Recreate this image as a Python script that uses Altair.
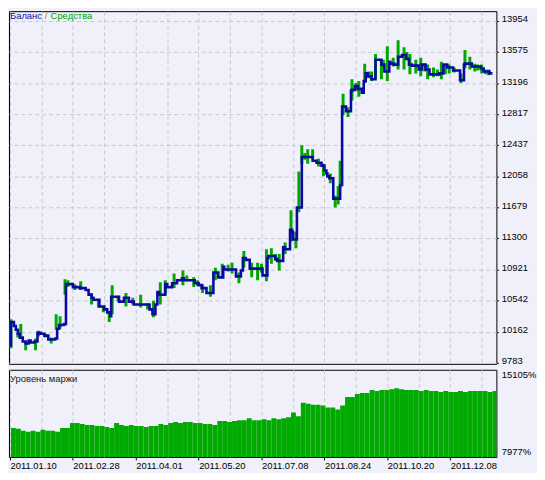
import altair as alt
import pandas as pd

# ---------------- data ----------------
# balance (deal index -> balance)
bal_idx = [0, 1, 4, 6, 8, 10, 13, 16, 19, 21, 25, 28, 31, 35, 39, 46, 48, 50, 55, 57,
           64, 71, 77, 80, 83, 85, 91, 96, 99, 102, 103, 111, 116, 121, 126, 142, 145, 148, 150, 152,
           158, 160, 165, 170, 175, 177, 188, 192, 195, 200, 207, 212, 217, 218, 230, 235, 237, 240, 244, 257,
           262, 263, 270, 272, 278, 280, 285, 287, 288, 292, 297, 308, 312, 317, 320, 322, 323, 325, 329, 336,
           338, 342, 347, 348, 351, 354, 358, 360, 362, 364, 368, 372, 378, 381, 386, 387, 391, 395, 399, 403,
           406, 409, 416, 419, 423, 427, 437, 441, 445, 451, 458, 462, 463, 470, 479, 482, 488, 491]
bal_val = [9996, 10281, 10233, 10186, 10139, 10091, 10044, 10020, 10056, 10032, 10044, 10150, 10139, 10115, 10067, 10079, 10198, 10245, 10257, 10743,
           10707, 10695, 10672, 10613, 10577, 10553, 10470, 10435, 10399, 10352, 10589, 10530, 10577, 10530, 10494, 10435, 10376, 10494, 10648, 10613,
           10743, 10707, 10755, 10790, 10814, 10790, 10755, 10731, 10695, 10636, 10885, 10826, 10956, 10921, 10838, 10909, 11063, 11039, 10932, 10850,
           11063, 11087, 11051, 11027, 11193, 11169, 11406, 11383, 11288, 11679, 12295, 12248, 12224, 12189, 12129, 12094, 12058, 12035, 11786, 11952,
           12911, 12852, 13101, 13113, 13160, 13125, 13077, 13220, 13314, 13279, 13243, 13480, 13421, 13338, 13457, 13433, 13421, 13516, 13539, 13492,
           13421, 13409, 13362, 13421, 13362, 13302, 13314, 13421, 13385, 13350, 13231, 13421, 13433, 13397, 13374, 13338, 13314, 13314]

# equity excursions (deal index -> high / low of equity)
eq_idx = [1, 8, 11, 16, 26, 29, 36, 42, 47, 51, 56, 59, 66, 72, 83, 90, 95, 101, 104, 110,
          118, 125, 133, 140, 146, 153, 158, 167, 176, 180, 187, 191, 196, 204, 209, 216, 222, 226, 233, 238,
          246, 252, 256, 261, 266, 270, 274, 280, 286, 291, 294, 297, 300, 303, 308, 314, 319, 326, 331, 334,
          336, 339, 344, 348, 352, 355, 361, 365, 368, 372, 378, 380, 384, 390, 395, 401, 404, 407, 413, 418,
          422, 425, 431, 435, 439, 443, 447, 452, 459, 463, 468, 473, 476, 480, 484, 487]
eq_hi = [10316, 10150, 10257, 10044, 10079, 10174, 10139, 10091, 10376, 10352, 10802, 10790, 10743, 10778, 10636, 10553, 10470, 10399, 10731, 10601,
         10636, 10577, 10613, 10506, 10541, 10767, 10790, 10873, 10909, 10850, 10826, 10790, 10743, 10731, 10944, 10992, 10980, 11004, 10885, 11146,
         11004, 11004, 10992, 11169, 11181, 11110, 11110, 11252, 11643, 11383, 12117, 12437, 12342, 12390, 12390, 12272, 12212, 12094, 11821, 11940,
         12248, 13065, 12900, 13243, 13196, 13220, 13433, 13338, 13338, 13551, 13480, 13480, 13646, 13504, 13717, 13634, 13575, 13551, 13480, 13504,
         13433, 13421, 13385, 13362, 13457, 13421, 13421, 13385, 13314, 13599, 13516, 13433, 13421, 13421, 13362, 13362]
eq_lo = [9961, 10091, 10103, 9937, 9937, 10103, 10091, 10020, 10186, 10198, 10613, 10707, 10672, 10672, 10494, 10458, 10399, 10281, 10376, 10530,
         10470, 10494, 10458, 10435, 10340, 10494, 10613, 10695, 10731, 10778, 10707, 10719, 10636, 10589, 10790, 10814, 10897, 10873, 10755, 10944,
         10826, 10790, 10885, 10778, 10992, 11027, 10909, 11110, 11264, 11181, 11620, 12212, 12260, 12212, 12272, 12177, 12058, 11975, 11679, 11715,
         11916, 12805, 12781, 12983, 13101, 13030, 13196, 13255, 13220, 13255, 13243, 13385, 13220, 13397, 13362, 13362, 13470, 13302, 13314, 13279,
         13338, 13243, 13267, 13279, 13243, 13302, 13314, 13326, 13196, 13374, 13362, 13338, 13350, 13314, 13302, 13291]

# margin level (%)
margin_idx = list(range(1, 492, 5))
margin_val = [10353, 10274, 10115, 10036, 10115, 10036, 10195, 10115, 10115, 10036,
              10353, 10353, 10749, 10749, 10670, 10591, 10591, 10511, 10511, 10432,
              10353, 10749, 10591, 10511, 10591, 10511, 10511, 10432, 10511, 10511,
              10670, 10591, 10749, 10828, 10749, 10828, 10828, 10749, 10749, 10670,
              10670, 10591, 10907, 10907, 10828, 10907, 10987, 10987, 11145, 10987,
              10987, 11066, 10987, 11145, 11066, 11145, 11224, 11620, 11303, 12412,
              12333, 12254, 12254, 12175, 12016, 12016, 11858, 12175, 12887, 12887,
              13125, 13204, 13204, 13442, 13363, 13442, 13442, 13521, 13600, 13521,
              13442, 13442, 13442, 13363, 13442, 13363, 13363, 13283, 13363, 13283,
              13283, 13363, 13283, 13363, 13363, 13363, 13363, 13283, 13363]

date_labels = ["2011.01.10", "2011.02.28", "2011.04.01", "2011.05.20",
               "2011.07.08", "2011.08.24", "2011.10.20", "2011.12.08"]
y_ticks = [9783, 10162, 10542, 10921, 11300, 11679, 12058, 12437, 12817, 13196, 13575, 13954]
margin_ticks = [7977, 15105]
grid_x = list(range(0, 481, 32))

# ---------------- style ----------------
BG = "#F0F0FA"
FONT = "Liberation Sans"
GRID = "#C8C8C8"
BLUE = "#0A0AA0"
GREEN = "#00A800"
W = 492

xscale = alt.Scale(domain=[-1, 495], nice=False, zero=False)
ymain = alt.Scale(domain=[9771, 14073], nice=False, zero=False)
ymargin = alt.Scale(domain=[7977, 15105], nice=False, zero=False)

bal_df = pd.DataFrame({"i": bal_idx, "v": bal_val})
eq_df = pd.DataFrame({"i": eq_idx, "hi": eq_hi, "lo": eq_lo})
m_df = pd.DataFrame({"i": margin_idx, "v": margin_val})

x_axis_main = alt.Axis(values=grid_x, grid=True, gridColor=GRID, gridDash=[4, 3],
                       labels=False, ticks=False, domain=False, title=None)
y_axis_main = alt.Axis(orient="right", values=y_ticks, format="d", grid=True, gridColor=GRID,
                       gridDash=[4, 3], domain=False, tickSize=2, tickColor="black",
                       labelFont=FONT, labelFontSize=9.5, labelColor="black", labelPadding=3,
                       labelOffset=-2, labelOverlap=False, labelBound=False, title=None)

label_expr = ("datum.value % 64 === 0 ? " + str(date_labels) + "[datum.value / 64] : ''")
x_axis_low = alt.Axis(values=grid_x, grid=True, gridColor=GRID, gridDash=[4, 3],
                      labelExpr=label_expr, labelAlign="left", labelOverlap=False,
                      labelFont=FONT, labelFontSize=9.5, labelColor="black", labelPadding=1,
                      tickSize=3, tickColor={"condition": {"test": "datum.value % 64 === 0", "value": "black"},
                                             "value": "transparent"},
                      domain=False, title=None)
y_axis_low = alt.Axis(orient="right", values=margin_ticks, labelExpr="datum.value + '%'",
                      labelFlush=True, ticks=False, grid=False, domain=False,
                      labelFont=FONT, labelFontSize=9.5, labelColor="black", labelPadding=5,
                      labelOverlap=False, title=None)

equity = alt.Chart(eq_df).mark_rule(color=GREEN, strokeWidth=3, clip=True).encode(
    x=alt.X("i:Q", scale=xscale, axis=x_axis_main),
    y=alt.Y("hi:Q", scale=ymain, axis=y_axis_main),
    y2="lo:Q",
)
balance = alt.Chart(bal_df).mark_line(color=BLUE, strokeWidth=2.6, interpolate="step-after",
                                      clip=True).encode(
    x=alt.X("i:Q", scale=xscale, axis=x_axis_main),
    y=alt.Y("v:Q", scale=ymain, axis=y_axis_main),
)


def label(text, x, y, color):
    return alt.Chart(pd.DataFrame({"t": [text]})).mark_text(
        align="left", baseline="middle", font=FONT, fontSize=9.5, color=color
    ).encode(text="t:N", x=alt.value(x), y=alt.value(y))


main = alt.layer(
    equity, balance,
    label("Баланс", 1, 5, "#1010A0"),
    label("/", 36, 5, "#C07800"),
    label("Средства", 42, 5, "#00A000"),
).properties(width=W, height=356)

bars = alt.Chart(m_df).transform_calculate(i2="datum.i + 5").mark_rect(
    color="#00AA00", clip=True).encode(
    x=alt.X("i:Q", scale=xscale, axis=x_axis_low),
    x2="i2:Q",
    y=alt.Y("v:Q", scale=ymargin, axis=y_axis_low),
    y2=alt.datum(7977),
)
lower = alt.layer(
    bars,
    label("Уровень маржи", 1, 9, "#202020"),
).properties(width=W, height=88)

chart = alt.vconcat(main, lower, spacing=2).configure_view(
    stroke="black", strokeWidth=1, fill=BG
).properties(
    background=BG,
    padding={"left": 0, "top": 0, "right": 0, "bottom": 0},
)

chart.save("out.html", embed_options={"renderer": "svg", "actions": False})
